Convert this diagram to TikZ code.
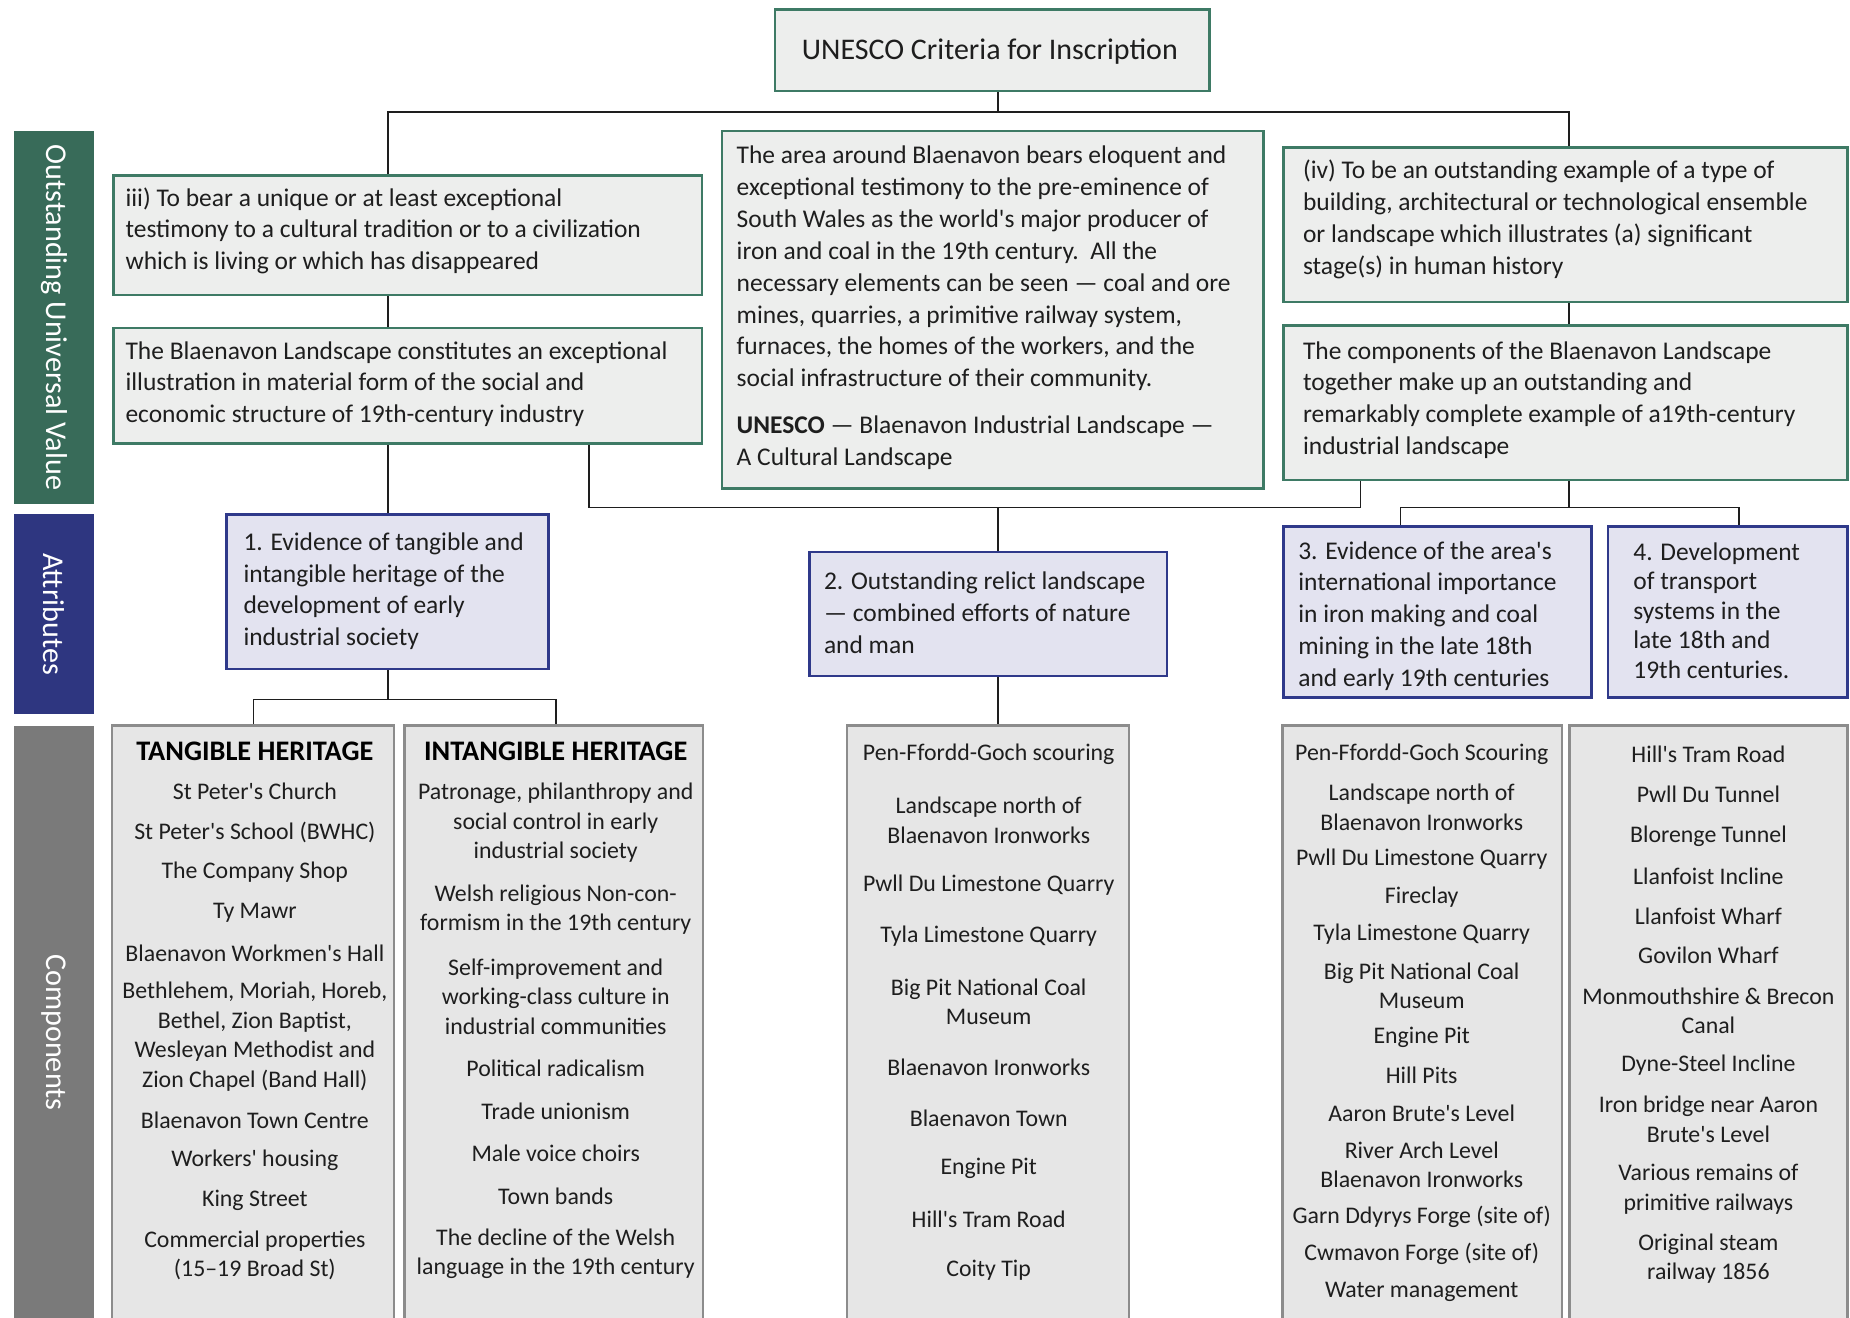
\documentclass[tikz,border=0pt]{standalone}
\usepackage{fontspec}
\setmainfont{Carlito}
\usetikzlibrary{fit}
\definecolor{ouvg}{RGB}{56,107,89}
\definecolor{gbord}{RGB}{62,122,101}
\definecolor{gfill}{RGB}{237,238,237}
\definecolor{attb}{RGB}{46,54,128}
\definecolor{bbord}{RGB}{47,57,138}
\definecolor{bfill}{RGB}{227,227,240}
\definecolor{compg}{RGB}{122,122,122}
\definecolor{cbord}{RGB}{140,140,140}
\definecolor{cfill}{RGB}{230,230,230}
\definecolor{ink}{RGB}{30,30,30}
\newcommand{\q}{\textquotesingle}
\begin{document}
\begin{tikzpicture}[x=0.5pt,y=-0.5pt,
 band/.style={inner sep=0, draw=none},
 bandtxt/.style={text=white, font=\fontsize{12.8}{15}\selectfont, rotate=-90, inner sep=0},
 gbox/.style={draw=gbord, fill=gfill, line width=1.1pt, inner sep=0},
 bbox/.style={draw=bbord, fill=bfill, line width=1.1pt, inner sep=0},
 cbox/.style={draw=cbord, fill=cfill, line width=1.1pt, inner sep=0},
 txt/.style={inner sep=0, anchor=west, align=left, text=ink, yshift=-0.8pt, font=\fontsize{10.8}{13.5}\selectfont},
 item/.style={inner sep=0, align=center, text=ink, yshift=-0.8pt, font=\fontsize{10.1}{12.5}\selectfont},
 head/.style={inner sep=0, text=black, yshift=-0.5pt, font=\fontsize{12}{13}\selectfont\bfseries},
 conn/.style={draw=ink, line width=0.7pt},
]
\useasboundingbox (0,0) rectangle (1568,1117);
\clip (0,0) rectangle (1568,1117);
\fill[white] (0,0) rectangle (1568,1117);

% side bands
\node[band, fill=ouvg, fit={(12,111) (80,427)}] (bandO) {};
\node[bandtxt] (bandOt) at (bandO.center) {Outstanding Universal Value};
\node[band, fill=attb, fit={(12,436) (80,605)}] (bandA) {};
\node[bandtxt] (bandAt) at (bandA.center) {Attributes};
\node[band, fill=compg, fit={(12,615) (80,1130)}] (bandC) {};
\node[bandtxt] (bandCt) at (46,875) {Components};

% top
\node[gbox, fit={(657,8) (1025,77)}] (top) {};
\node[inner sep=0, text=ink, yshift=-0.8pt, font=\fontsize{12.7}{15}\selectfont] (topt) at (839,42) {UNESCO Criteria for Inscription};

% OUV boxes
\node[gbox, fit={(96,149) (595,250)}] (b3) {};
\node[txt] (b3t) at (106,194) {iii) To bear a unique or at least exceptional\\testimony to a cultural tradition or to a civilization\\which is living or which has disappeared};
\node[gbox, fit={(96,278) (595,376)}] (bO1) {};
\node[txt] (bO1t) at (106,324) {The Blaenavon Landscape constitutes an exceptional\\illustration in material form of the social and\\economic structure of 19th-century industry};
\node[gbox, fit={(612,111) (1071,414)}] (cb) {};
\node[txt] (cbA) at (624,226) {The area around Blaenavon bears eloquent and\\exceptional testimony to the pre-eminence of\\South Wales as the world\q s major producer of\\iron and coal in the 19th century.\ \ All the\\necessary elements can be seen — coal and ore\\mines, quarries, a primitive railway system,\\furnaces, the homes of the workers, and the\\social infrastructure of their community.};
\node[txt] (cbB) at (624,373.5) {\textbf{UNESCO} — Blaenavon Industrial Landscape —\\A Cultural Landscape};
\node[gbox, fit={(1088,125) (1566,256)}] (biv) {};
\node[txt] (bivt) at (1104,184.5) {(iv) To be an outstanding example of a type of\\building, architectural or technological ensemble\\or landscape which illustrates (a) significant\\stage(s) in human history};
\node[gbox, fit={(1088,276) (1566,407)}] (bO2) {};
\node[txt] (bO2t) at (1104,337.5) {The components of the Blaenavon Landscape\\together make up an outstanding and\\remarkably complete example of a19th-century\\industrial landscape};

% attributes
\node[bbox, fit={(192,436) (465,567)}] (a1) {};
\node[txt] (a1t) at (206,499.5) {1. Evidence of tangible and\\intangible heritage of the\\development of early\\industrial society};
\node[bbox, fit={(686,468) (989,573)}] (a2) {};
\node[txt] (a2t) at (698,518) {2. Outstanding relict landscape\\— combined efforts of nature\\and man};
\node[bbox, fit={(1088,446) (1349,591)}] (a3) {};
\node[txt] (a3t) at (1100,520.5) {3. Evidence of the area\q s\\international importance\\in iron making and coal\\mining in the late 18th\\and early 19th centuries};
\node[bbox, fit={(1363,446) (1566,591)}] (a4) {};
\node[txt, font=\fontsize{10.8}{12.5}\selectfont] (a4t) at (1384,516) {4. Development\\of transport\\systems in the\\late 18th and\\19th centuries.};

% components
\node[cbox, fit={(95,615) (334,1130)}] (ctan) {};
\node[cbox, fit={(343,615) (596,1130)}] (cint) {};
\node[cbox, fit={(718,615) (957,1130)}] (crel) {};
\node[cbox, fit={(1087,615) (1324,1130)}] (ciron) {};
\node[cbox, fit={(1330,615) (1566,1130)}] (ctr) {};

% tangible
\node[head] (th) at (216,636) {TANGIBLE HERITAGE};
\node[item] (t1) at (216,669) {St Peter\q s Church};
\node[item] (t2) at (216,704) {St Peter\q s School (BWHC)};
\node[item] (t3) at (216,738) {The Company Shop};
\node[item] (t4) at (216,772) {Ty Mawr};
\node[item] (t5) at (216,806) {Blaenavon Workmen\q s Hall};
\node[item] (t6) at (216,877) {Bethlehem, Moriah, Horeb,\\Bethel, Zion Baptist,\\Wesleyan Methodist and\\Zion Chapel (Band Hall)};
\node[item] (t7) at (216,948) {Blaenavon Town Centre};
\node[item] (t8) at (216,982) {Workers\q\ housing};
\node[item] (t9) at (216,1016) {King Street};
\node[item] (t10) at (216,1062.5) {Commercial properties\\(15–19 Broad St)};

% intangible
\node[head] (ih) at (471,636) {INTANGIBLE HERITAGE};
\node[item] (i1) at (471,696) {Patronage, philanthropy and\\social control in early\\industrial society};
\node[item] (i2) at (471,769.5) {Welsh religious Non-con-\\formism in the 19th century};
\node[item] (i3) at (471,843) {Self-improvement and\\working-class culture in\\industrial communities};
\node[item] (i4) at (471,904) {Political radicalism};
\node[item] (i5) at (471,940) {Trade unionism};
\node[item] (i6) at (471,976) {Male voice choirs};
\node[item] (i7) at (471,1012) {Town bands};
\node[item] (i8) at (471,1061) {The decline of the Welsh\\language in the 19th century};

% relict
\node[item] (r1) at (838,638) {Pen-Ffordd-Goch scouring};
\node[item] (r2) at (838,693.5) {Landscape north of\\Blaenavon Ironworks};
\node[item] (r3) at (838,749) {Pwll Du Limestone Quarry};
\node[item] (r4) at (838,792) {Tyla Limestone Quarry};
\node[item] (r5) at (838,847.5) {Big Pit National Coal\\Museum};
\node[item] (r6) at (838,903) {Blaenavon Ironworks};
\node[item] (r7) at (838,946) {Blaenavon Town};
\node[item] (r8) at (838,989) {Engine Pit};
\node[item] (r9) at (838,1032) {Hill\q s Tram Road};
\node[item] (r10) at (838,1075) {Coity Tip};

% iron
\node[item] (n1) at (1205,638) {Pen-Ffordd-Goch Scouring};
\node[item] (n2) at (1205,682.5) {Landscape north of\\Blaenavon Ironworks};
\node[item] (n3) at (1205,727) {Pwll Du Limestone Quarry};
\node[item] (n4) at (1205,759) {Fireclay};
\node[item] (n5) at (1205,790) {Tyla Limestone Quarry};
\node[item] (n6) at (1205,834) {Big Pit National Coal\\Museum};
\node[item] (n7) at (1205,878) {Engine Pit};
\node[item] (n8) at (1205,910) {Hill Pits};
\node[item] (n9) at (1205,942) {Aaron Brute\q s Level};
\node[item] (n10) at (1205,985.5) {River Arch Level\\Blaenavon Ironworks};
\node[item] (n11) at (1205,1030) {Garn Ddyrys Forge (site of)};
\node[item] (n12) at (1205,1061) {Cwmavon Forge (site of)};
\node[item] (n13) at (1205,1093) {Water management};

% transport
\node[item] (p1) at (1448,638) {Hill\q s Tram Road};
\node[item] (p2) at (1448,672) {Pwll Du Tunnel};
\node[item] (p3) at (1448,707) {Blorenge Tunnel};
\node[item] (p4) at (1448,741) {Llanfoist Incline};
\node[item] (p5) at (1448,775) {Llanfoist Wharf};
\node[item] (p6) at (1448,808) {Govilon Wharf};
\node[item] (p7) at (1448,855) {Monmouthshire \& Brecon\\Canal};
\node[item] (p8) at (1448,901) {Dyne-Steel Incline};
\node[item] (p9) at (1448,947) {Iron bridge near Aaron\\Brute\q s Level};
\node[item] (p10) at (1448,1006.5) {Various remains of\\primitive railways};
\node[item] (p11) at (1448,1065) {Original steam\\railway 1856};

% junctions
\coordinate (jT) at (846,95);
\coordinate (jL) at (329,95);
\coordinate (jR) at (1330,95);
\coordinate (jM1) at (499,430);
\coordinate (jM2) at (1153,430);
\coordinate (jM3) at (846,430);
\coordinate (jR2) at (1330,430);
\coordinate (jR3) at (1187,430);
\coordinate (jR4) at (1474,430);
\coordinate (jA1) at (329,593);
\coordinate (jA2) at (215,593);
\coordinate (jA3) at (471,593);

% connectors
\draw[conn] (top.south -| jT) -- (jT);
\draw[conn] (b3.north -| jL) -- (jL) -- (jR) -- (biv.north -| jR);
\draw[conn] (b3.south -| jL) -- (bO1.north -| jL);
\draw[conn] (bO1.south -| jL) -- (a1.north -| jL);
\draw[conn] (bO1.south -| jM1) -- (jM1) -- (jM2) -- (bO2.south -| jM2);
\draw[conn] (jM3) -- (a2.north -| jM3);
\draw[conn] (biv.south -| jR) -- (bO2.north -| jR);
\draw[conn] (bO2.south -| jR) -- (jR2);
\draw[conn] (a3.north -| jR3) -- (jR3) -- (jR4) -- (a4.north -| jR4);
\draw[conn] (a1.south -| jA1) -- (jA1);
\draw[conn] (ctan.north -| jA2) -- (jA2) -- (jA3) -- (cint.north -| jA3);
\draw[conn] (a2.south -| jM3) -- (crel.north -| jM3);
\end{tikzpicture}
\end{document}
